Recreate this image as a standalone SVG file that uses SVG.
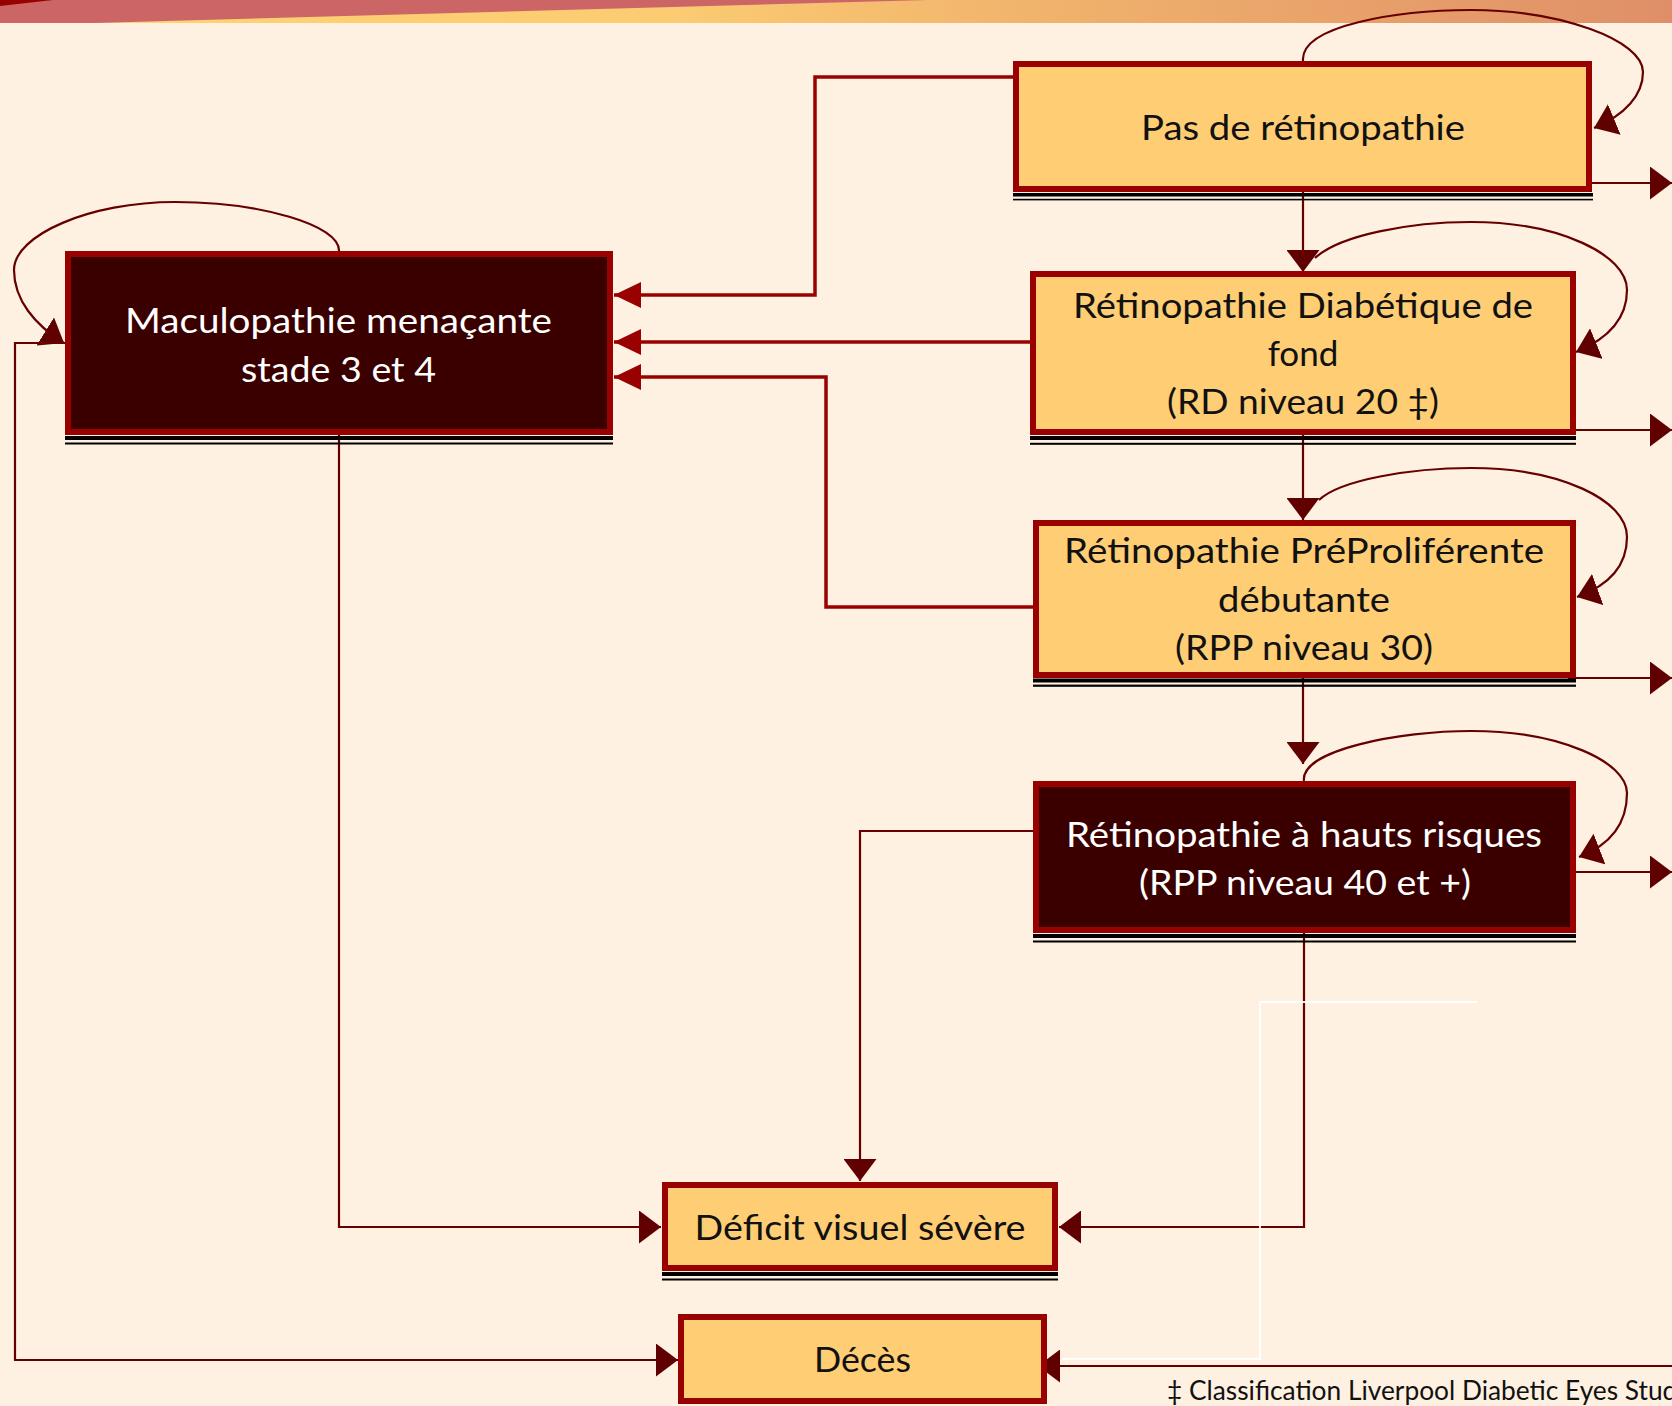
<svg xmlns="http://www.w3.org/2000/svg" width="1672" height="1406" viewBox="0 0 1672 1406">
  <style>
    .box-light { fill: #FECD74; stroke: #990000; stroke-width: 6; }
    .box-dark { fill: #3A0000; stroke: #990000; stroke-width: 6; }
    .shadow { fill: #000000; }
    .label { font-family: Lato, "Open Sans", "Liberation Sans", sans-serif; font-size: 35px; text-anchor: middle; }
    .label-dark { fill: #111111; }
    .label-light { fill: #FFFFFF; }
    .link { fill: none; stroke: #660000; stroke-width: 2.2; }
    .link-strong { fill: none; stroke: #990000; stroke-width: 3.5; }
    .loop { fill: none; stroke: #660000; stroke-width: 2.2; }
    .note { font-family: Lato, "Open Sans", "Liberation Sans", sans-serif; font-size: 26.3px; fill: #111111; }
  </style>
  <defs>
    <linearGradient id="bannerGrad" x1="0" y1="0" x2="1" y2="0">
      <stop offset="0" stop-color="#FFD476"/>
      <stop offset="0.4" stop-color="#FCCB72"/>
      <stop offset="0.65" stop-color="#EFB06C"/>
      <stop offset="1" stop-color="#DF8F68"/>
    </linearGradient>
    <marker id="arrow" markerUnits="userSpaceOnUse" markerWidth="22" markerHeight="33" refX="22" refY="16.5" orient="auto">
      <path d="M0,0 L22,16.5 L0,33 z" fill="#600000"/>
    </marker>
    <marker id="arrowStrong" markerUnits="userSpaceOnUse" markerWidth="27" markerHeight="26" refX="27" refY="13" orient="auto">
      <path d="M0,0 L27,13 L0,26 z" fill="#990000"/>
    </marker>
  </defs>

  <!-- page background and top banner -->
  <rect x="0" y="0" width="1672" height="1406" fill="#FEF1E1"/>
  <rect x="0" y="0" width="1672" height="23" fill="url(#bannerGrad)"/>
  <polygon points="0,0 928,0 95,23 0,23" fill="#CC6666"/>
  <polygon points="0,0 53,0 0,6" fill="#990000"/>

  <!-- connectors -->
  <g id="connectors">
    <!-- towards Maculopathie -->
    <path class="link-strong" d="M1013,77 H815 V295 H614" marker-end="url(#arrowStrong)"/>
    <path class="link-strong" d="M1038,342 H614" marker-end="url(#arrowStrong)"/>
    <path class="link-strong" d="M1033,607 H826 V377 H614" marker-end="url(#arrowStrong)"/>

    <!-- progression down the stages -->
    <path class="link" d="M1303,192 V272" marker-end="url(#arrow)"/>
    <path class="link" d="M1303,435 V520" marker-end="url(#arrow)"/>
    <path class="link" d="M1303,678 V764" marker-end="url(#arrow)"/>

    <!-- self loops -->
    <path class="loop" d="M1303,61 C1300,25 1400,10 1471,10 C1560,10 1643,40 1643,72 C1643,95 1625,115 1594,128" marker-end="url(#arrow)"/>
    <path class="loop" d="M1315,258 C1340,235 1410,222 1471,222 C1560,222 1627,255 1627,290 C1627,318 1610,338 1576,352" marker-end="url(#arrow)"/>
    <path class="loop" d="M1319,500 C1340,480 1410,468 1471,468 C1560,468 1627,500 1627,537 C1627,565 1610,585 1577,597" marker-end="url(#arrow)"/>
    <path class="loop" d="M1304,781 C1300,750 1400,731 1471,731 C1560,731 1627,762 1627,793 C1627,825 1610,845 1579,857" marker-end="url(#arrow)"/>
    <path class="loop" d="M339,251 C340,225 260,202 175,202 C90,202 14,235 14,270 C14,300 35,325 64,343" marker-end="url(#arrow)"/>

    <!-- exits to the right -->
    <path class="link" d="M1585,183 H1672" marker-end="url(#arrow)"/>
    <path class="link" d="M1568,430 H1672" marker-end="url(#arrow)"/>
    <path class="link" d="M1568,678 H1672" marker-end="url(#arrow)"/>
    <path class="link" d="M1568,872 H1672" marker-end="url(#arrow)"/>

    <!-- towards Déficit visuel sévère -->
    <path class="link" d="M1033,831 H860 V1181" marker-end="url(#arrow)"/>
    <path class="link" d="M1304,933 V1227 H1059" marker-end="url(#arrow)"/>
    <path class="link" d="M339,435 V1227 H661" marker-end="url(#arrow)"/>

    <!-- towards Décès -->
    <path class="link" d="M65,343 H15 V1360 H678" marker-end="url(#arrow)"/>
    <path d="M1062,1359 H1260 V1002 H1477" fill="none" stroke="#FFFFFF" stroke-width="2" opacity="0.9"/>
    <path class="link" d="M1672,1366 H1038" marker-end="url(#arrow)"/>
  </g>

  <!-- Pas de rétinopathie -->
  <g id="node-pas-retinopathie">
    <rect class="box-light" x="1016" y="64" width="573" height="125"/>
    <rect class="shadow" x="1013" y="193" width="580" height="3.5"/>
    <rect class="shadow" x="1013" y="198.8" width="580" height="1.6"/>
    <text class="label label-dark" x="1303" y="140" textLength="324" lengthAdjust="spacingAndGlyphs">Pas de rétinopathie</text>
  </g>

  <!-- Rétinopathie Diabétique de fond -->
  <g id="node-rd-fond">
    <rect class="box-light" x="1033" y="274" width="540" height="158"/>
    <rect class="shadow" x="1030" y="436" width="546" height="4"/>
    <rect class="shadow" x="1030" y="442.8" width="546" height="2"/>
    <text class="label label-dark" x="1303" y="318" textLength="460" lengthAdjust="spacingAndGlyphs">Rétinopathie Diabétique de</text>
    <text class="label label-dark" x="1303" y="366">fond</text>
    <text class="label label-dark" x="1303" y="414" textLength="272" lengthAdjust="spacingAndGlyphs">(RD niveau 20 ‡)</text>
  </g>

  <!-- Rétinopathie PréProliférente débutante -->
  <g id="node-rpp-debutante">
    <rect class="box-light" x="1036" y="523" width="537" height="152"/>
    <rect class="shadow" x="1033" y="678.5" width="543" height="4"/>
    <rect class="shadow" x="1033" y="684.6" width="543" height="2.2"/>
    <text class="label label-dark" x="1304" y="563" textLength="480" lengthAdjust="spacingAndGlyphs">Rétinopathie PréProliférente</text>
    <text class="label label-dark" x="1304" y="612" textLength="172" lengthAdjust="spacingAndGlyphs">débutante</text>
    <text class="label label-dark" x="1304" y="660" textLength="258" lengthAdjust="spacingAndGlyphs">(RPP niveau 30)</text>
  </g>

  <!-- Rétinopathie à hauts risques -->
  <g id="node-hauts-risques">
    <rect class="box-dark" x="1036" y="784" width="537" height="146"/>
    <rect class="shadow" x="1033" y="934" width="543" height="4"/>
    <rect class="shadow" x="1033" y="940.5" width="543" height="2"/>
    <text class="label label-light" x="1304" y="847" textLength="476" lengthAdjust="spacingAndGlyphs">Rétinopathie à hauts risques</text>
    <text class="label label-light" x="1305" y="895" textLength="332" lengthAdjust="spacingAndGlyphs">(RPP niveau 40 et +)</text>
  </g>

  <!-- Maculopathie menaçante -->
  <g id="node-maculopathie">
    <rect class="box-dark" x="68" y="254" width="542" height="178"/>
    <rect class="shadow" x="65" y="436" width="548" height="4"/>
    <rect class="shadow" x="65" y="442.5" width="548" height="2"/>
    <text class="label label-light" x="338.5" y="333" textLength="427" lengthAdjust="spacingAndGlyphs">Maculopathie menaçante</text>
    <text class="label label-light" x="338.5" y="382" textLength="195" lengthAdjust="spacingAndGlyphs">stade 3 et 4</text>
  </g>

  <!-- Déficit visuel sévère -->
  <g id="node-deficit">
    <rect class="box-light" x="665" y="1185" width="390" height="83"/>
    <rect class="shadow" x="662" y="1272" width="396" height="4"/>
    <rect class="shadow" x="662" y="1278.5" width="396" height="2"/>
    <text class="label label-dark" x="860" y="1240" textLength="331" lengthAdjust="spacingAndGlyphs">Déficit visuel sévère</text>
  </g>

  <!-- Décès -->
  <g id="node-deces">
    <rect class="box-light" x="681" y="1317" width="363" height="84"/>
    <text class="label label-dark" x="862.5" y="1372" textLength="97" lengthAdjust="spacingAndGlyphs">Décès</text>
  </g>

  <!-- footnote, running off the right edge of the page -->
  <g id="footnote">
    <text class="note" x="1167" y="1400">‡ Classification Liverpool Diabetic Eyes Study</text>
  </g>
</svg>
